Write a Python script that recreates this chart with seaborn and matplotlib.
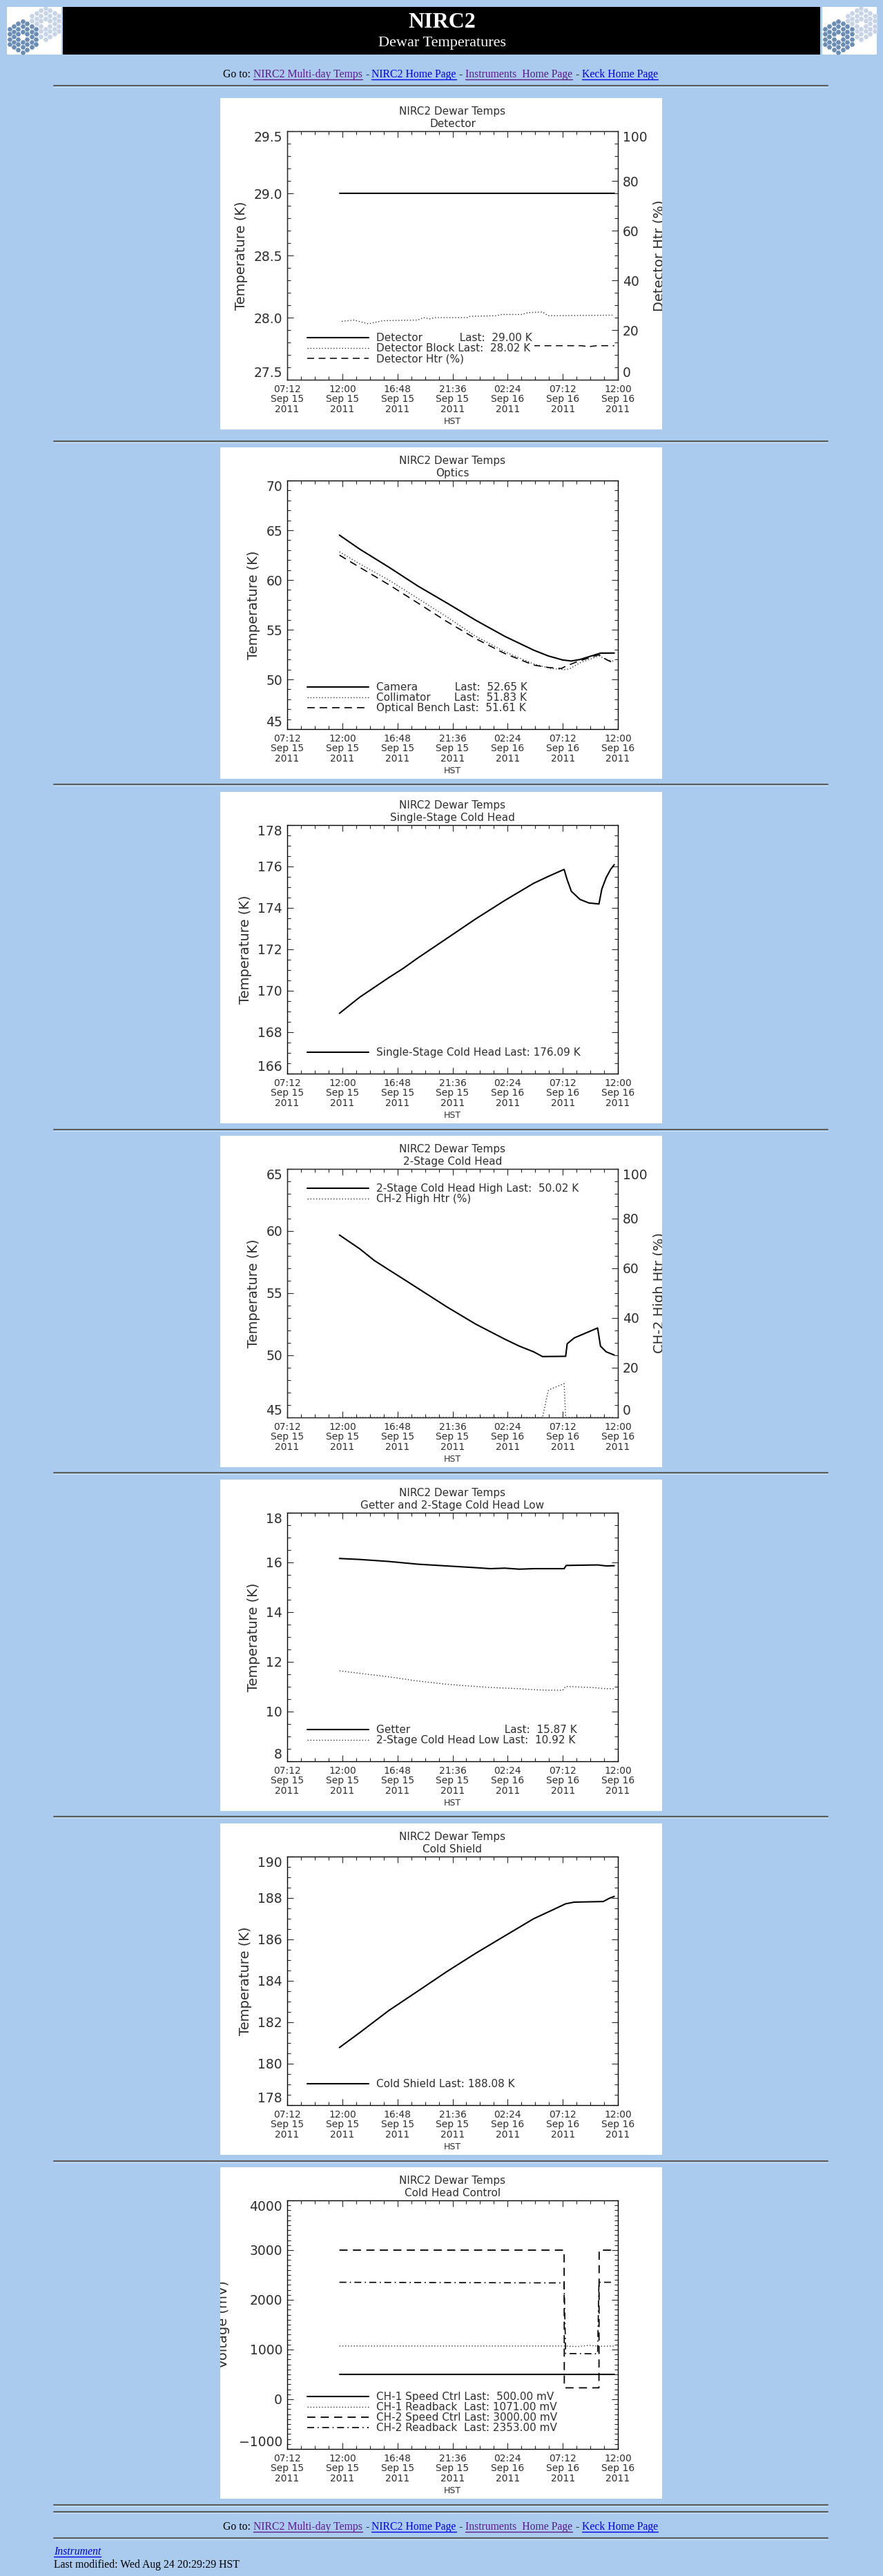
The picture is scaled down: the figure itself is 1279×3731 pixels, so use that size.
import numpy as np
import pandas as pd
import seaborn as sns
import matplotlib.pyplot as plt
import matplotlib.dates as mdates
from matplotlib.ticker import MultipleLocator, FixedLocator
from matplotlib.textpath import TextPath
from matplotlib.font_manager import FontProperties
from matplotlib.lines import Line2D

sns.set_style("ticks")
plt.rcParams['font.family'] = ['DejaVu Sans']

W, H = 1279, 3731
PAGE_BG = '#aacbee'
INK = '#2e2e2e'
PURPLE = '#5a1a8b'
BLUE = '#0000ee'

# ---- data ----
T0 = pd.Timestamp('2011-09-15 07:12')
T1 = pd.Timestamp('2011-09-16 12:00')

# Detector
det_time = ['09-15 11:45', '09-16 02:00', '09-16 11:41']
det_temp = [29.00, 29.00, 29.00]
blk_time = ['09-15 11:57', '09-15 13:01', '09-15 14:16', '09-15 15:32', '09-15 18:34', '09-15 19:04',
            '09-15 19:35', '09-15 20:05', '09-15 22:52', '09-15 23:07', '09-16 01:23', '09-16 01:53',
            '09-16 03:39', '09-16 04:10', '09-16 05:26', '09-16 05:56', '09-16 11:37']
blk_temp = [27.97, 27.98, 27.95, 27.975, 27.98, 28.00, 27.99, 28.00, 28.00, 28.01, 28.015, 28.025,
            28.025, 28.04, 28.045, 28.015, 28.02]
dhtr_time = ['09-15 11:45', '09-16 08:50', '09-16 09:28', '09-16 10:10', '09-16 11:41']
dhtr_pct = [13.7, 13.7, 13.3, 13.7, 13.7]

# Optics
cam_time = ['09-15 11:45', '09-15 13:31', '09-15 16:02', '09-15 18:34', '09-15 21:05', '09-15 23:37',
            '09-16 02:09', '09-16 04:40', '09-16 05:56', '09-16 07:12', '09-16 07:57', '09-16 08:42',
            '09-16 09:42', '09-16 10:29', '09-16 11:41']
cam_temp = [64.51, 63.10, 61.30, 59.40, 57.70, 55.95, 54.33, 52.94, 52.36, 51.95, 51.85, 52.00,
            52.36, 52.64, 52.65]
col_time = ['09-15 11:45', '09-15 13:31', '09-15 16:02', '09-15 18:34', '09-15 21:05', '09-15 23:37',
            '09-16 02:09', '09-16 04:40', '09-16 06:11', '09-16 07:27', '09-16 07:50', '09-16 08:42',
            '09-16 10:21', '09-16 11:06', '09-16 11:41']
col_temp = [62.83, 61.62, 60.00, 58.15, 56.30, 54.33, 52.78, 51.55, 51.09, 50.97, 51.09, 51.67,
            52.36, 51.95, 51.83]
ben_time = ['09-15 11:45', '09-15 13:31', '09-15 16:02', '09-15 18:34', '09-15 21:05', '09-15 23:37',
            '09-16 02:09', '09-16 04:40', '09-16 05:56', '09-16 07:04', '09-16 07:27', '09-16 08:27',
            '09-16 10:21', '09-16 10:59', '09-16 11:41']
ben_temp = [62.50, 61.27, 59.54, 57.69, 55.83, 54.10, 52.60, 51.44, 51.20, 51.09, 51.32, 51.78,
            52.48, 52.00, 51.61]

# Single-stage cold head
ss_time = ['09-15 11:45', '09-15 13:31', '09-15 16:02', '09-15 17:18', '09-15 18:34', '09-15 21:05',
           '09-15 23:37', '09-16 02:09', '09-16 04:40', '09-16 05:56', '09-16 07:19', '09-16 07:35',
           '09-16 07:57', '09-16 08:42', '09-16 09:28', '09-16 10:21', '09-16 10:36', '09-16 10:59',
           '09-16 11:22', '09-16 11:41']
ss_temp = [168.91, 169.69, 170.63, 171.08, 171.58, 172.52, 173.47, 174.36, 175.19, 175.52, 175.86,
           175.36, 174.80, 174.41, 174.24, 174.19, 174.91, 175.47, 175.86, 176.09]

# 2-stage cold head high + heater
hi_time = ['09-15 11:45', '09-15 13:31', '09-15 14:47', '09-15 16:02', '09-15 17:18', '09-15 18:34',
           '09-15 21:05', '09-15 23:37', '09-16 02:09', '09-16 03:25', '09-16 04:40', '09-16 05:26',
           '09-16 07:27', '09-16 07:35', '09-16 08:12', '09-16 10:14', '09-16 10:29', '09-16 10:59',
           '09-16 11:41']
hi_temp = [59.68, 58.57, 57.63, 56.89, 56.15, 55.40, 53.91, 52.51, 51.30, 50.74, 50.28, 49.90,
           49.92, 50.93, 51.40, 52.20, 50.74, 50.28, 50.02]
ch2h_time = ['09-15 11:45', '09-16 05:26', '09-16 05:56', '09-16 06:11', '09-16 07:19', '09-16 07:27',
             '09-16 11:41']
ch2h_pct = [0, 0, 10.8, 11.5, 13.6, 0, 0]

# Getter and 2-stage cold head low
get_time = ['09-15 11:45', '09-15 13:31', '09-15 16:02', '09-15 18:34', '09-15 21:05', '09-15 23:37',
            '09-16 00:53', '09-16 02:09', '09-16 03:25', '09-16 04:40', '09-16 07:19', '09-16 07:30',
            '09-16 10:14', '09-16 10:59', '09-16 11:41']
get_temp = [16.16, 16.12, 16.04, 15.93, 15.86, 15.79, 15.75, 15.77, 15.73, 15.75, 15.75, 15.88,
            15.90, 15.86, 15.87]
low_time = ['09-15 11:45', '09-15 13:31', '09-15 16:02', '09-15 18:34', '09-15 21:05', '09-15 23:37',
            '09-16 00:53', '09-16 03:25', '09-16 04:40', '09-16 05:56', '09-16 07:12', '09-16 07:27',
            '09-16 09:42', '09-16 10:59', '09-16 11:41']
low_temp = [11.64, 11.54, 11.40, 11.23, 11.10, 11.01, 10.97, 10.92, 10.88, 10.86, 10.86, 11.01,
            10.97, 10.92, 10.92]

# Cold shield
cs_time = ['09-15 11:45', '09-15 13:31', '09-15 16:02', '09-15 18:34', '09-15 21:05', '09-15 23:37',
           '09-16 02:09', '09-16 04:40', '09-16 06:11', '09-16 07:27', '09-16 08:12', '09-16 10:44',
           '09-16 11:14', '09-16 11:41']
cs_temp = [180.78, 181.50, 182.56, 183.50, 184.44, 185.33, 186.17, 187.00, 187.39, 187.72, 187.80,
           187.83, 187.98, 188.08]

# Cold head control (mV)
c1s_time = ['09-15 11:45', '09-16 11:41']
c1s_mv = [500, 500]
c1r_time = ['09-15 11:45', '09-16 07:19', '09-16 08:30', '09-16 09:30', '09-16 10:21', '09-16 11:41']
c1r_mv = [1071, 1071, 1060, 1085, 1065, 1071]
c2s_time = ['09-15 11:45', '09-16 07:19', '09-16 07:20', '09-16 10:21', '09-16 10:22', '09-16 11:41']
c2s_mv = [3000, 3000, 230, 230, 3000, 3000]
c2r_time = ['09-15 11:45', '09-16 07:19', '09-16 07:27', '09-16 10:14', '09-16 10:21', '09-16 11:41']
c2r_mv = [2353, 2340, 920, 915, 2353, 2353]

PANEL_TOP = [142, 648, 1147, 1645, 2143, 2641, 3139]
HR_Y = [124, 639, 1136, 1636, 2133, 2631, 3130, 3628, 3638, 3676]

SOLID = '-'
DOT = (0, (1, 2))
DASH = (0, (6.5, 4.3))
DASHDOT = (0, (6, 3, 1, 3))

MAJOR_T = pd.date_range(T0, T1, freq='288min')
MINOR_T = pd.date_range(T0, T1, freq='72min')


def when(lst):
    return pd.to_datetime(['2011-' + s for s in lst])


def fbox(x, y, w, h):
    return [x / W, 1 - (y + h) / H, w / W, h / H]


fig = plt.figure(figsize=(W / 100, H / 100), dpi=100)
fig.patch.set_facecolor(PAGE_BG)


def hr(y):
    fig.add_artist(Line2D([78 / W, 1199 / W], [1 - y / H] * 2, color='#5c5c5c', lw=1.5))
    fig.add_artist(Line2D([78 / W, 1199 / W], [1 - (y + 1.6) / H] * 2, color='#d8e4f2', lw=0.6))


def link_row(y_base, pieces, x_left=None, x_mid=None, size=11.3, style='normal'):
    r = fig.canvas.get_renderer()
    arts = []
    for s, col, ul in pieces:
        t = fig.text(0, 1 - y_base / H, s, color=col, fontsize=size, family='Liberation Serif',
                     va='baseline', ha='left', style=style)
        arts.append((t, t.get_window_extent(r).width, col, ul))
    gap = 4
    total = sum(a[1] for a in arts) + gap * (len(arts) - 1)
    x = x_left if x_left is not None else x_mid - total / 2
    for t, w, col, ul in arts:
        t.set_x(x / W)
        if ul:
            fig.add_artist(Line2D([x / W, (x + w) / W], [1 - (y_base + 2.5) / H] * 2, color=col, lw=1))
        x += w + gap


def logo(x, y):
    lax = fig.add_axes(fbox(x, y, 79, 69))
    lax.set_facecolor('white')
    lax.set_xlim(0, 79)
    lax.set_ylim(69, 0)
    lax.axis('off')
    lax.add_patch(plt.Rectangle((0, 0), 79, 69, color='white', zorder=0))
    for (cx, cy), col in [((56, 24), '#c6d4e5'), ((23, 43), '#6a8db6')]:
        xs, ys = [], []
        for q in range(-3, 4):
            for r in range(-3, 4):
                if abs(q + r) > 3 or (q == 0 and r == 0):
                    continue
                xs.append(cx + 6.5 * q)
                ys.append(cy + 7.5 * (r + q / 2))
        lax.scatter(xs, ys, marker='H', s=34, color=col, edgecolors='white', linewidths=0.4, zorder=2)


# ---- page header ----
hdr = fig.add_axes(fbox(91, 10, 1097, 69))
hdr.set_facecolor('black')
hdr.set_xticks([])
hdr.set_yticks([])
for s in hdr.spines.values():
    s.set_visible(False)
fig.text(640 / W, 1 - 32 / H, 'NIRC2', color='white', fontsize=23, fontweight='bold',
         family='Liberation Serif', ha='center', va='center')
fig.text(640 / W, 1 - 63 / H, 'Dewar Temperatures', color='white', fontsize=16,
         family='Liberation Serif', ha='center', va='center')
logo(10, 10)
logo(1191, 10)

GOTO = [('Go to:', 'black', False), ('NIRC2 Multi-day Temps', PURPLE, True), ('-', 'black', False),
        ('NIRC2 Home Page', BLUE, True), ('-', 'black', False), ('Instruments  Home Page', PURPLE, True),
        ('-', 'black', False), ('Keck Home Page', BLUE, True)]
link_row(112, GOTO, x_mid=638)
for y in HR_Y:
    hr(y)
link_row(3664, GOTO, x_mid=638)
link_row(3700, [('Instrument', BLUE, True)], x_left=78, style='italic')
link_row(3719, [('Last modified: Wed Aug 24 20:29:29 HST', 'black', False)], x_left=78)

LEG_FP = FontProperties(family='DejaVu Sans', size=11)


def text_w(s):
    return TextPath((0, 0), s + '|', prop=LEG_FP).get_extents().x1


def aligned(names):
    base = max(text_w(n + ' ') for n in names)
    sp = text_w(' ') - text_w('')
    out = []
    for n in names:
        s = n + ' '
        while text_w(s + ' ') <= base + sp * 0.5:
            s += ' '
        out.append(s)
    return out


def trace(ax, times, vals, ls, label, lw=1.4, color='black'):
    sns.lineplot(x=when(times), y=vals, ax=ax, color=color, linestyle=ls, linewidth=lw,
                 label=label, estimator=None, sort=False, legend=False)


def style_y(ax, lo, hi, step, minor, side):
    ax.set_ylim(lo, hi)
    ax.set_yticks(np.arange(lo, hi + step / 2, step))
    ax.yaxis.set_minor_locator(MultipleLocator(minor))
    ax.tick_params(axis='y', which='both', direction='in', labelsize=13.5, pad=5,
                   labelcolor=INK, left=(side == 'left'), right=(side == 'right'),
                   labelleft=(side == 'left'), labelright=(side == 'right'))
    ax.tick_params(axis='y', which='major', length=6.5, width=0.8)
    ax.tick_params(axis='y', which='minor', length=3.6, width=0.8)
    labs = ax.get_yticklabels()
    labs[0].set_va('bottom')
    labs[-1].set_va('top')


def panel(top, twin=False):
    bg = fig.add_axes(fbox(319, top, 640, 480))
    bg.set_facecolor('white')
    bg.set_xticks([])
    bg.set_yticks([])
    for s in bg.spines.values():
        s.set_visible(False)
    ax = fig.add_axes(fbox(319 + 97, top + 48, 479, 360))
    ax.set_facecolor('white')
    for s in ax.spines.values():
        s.set_color('black')
        s.set_linewidth(1.0)
    tw = ax.twinx() if twin else None
    return bg, ax, tw


def finish(bg, ax, subtitle, ylim, ystep, yminor, ylabel, tw=None, tw_label=None, label_x=None):
    ax.set_xlim(T0, T1)
    ax.xaxis.set_major_locator(FixedLocator(mdates.date2num(MAJOR_T)))
    ax.xaxis.set_minor_locator(FixedLocator(mdates.date2num(MINOR_T)))
    ax.xaxis.set_major_formatter(mdates.DateFormatter('%H:%M\n%b %d\n%Y'))
    ax.tick_params(axis='x', which='both', direction='in', top=True, bottom=True,
                   labelsize=10, pad=5, labelcolor=INK)
    ax.tick_params(axis='x', which='major', length=6.5, width=0.8)
    ax.tick_params(axis='x', which='minor', length=3.6, width=0.8)
    for lab in ax.get_xticklabels():
        lab.set_linespacing(1.05)
    style_y(ax, ylim[0], ylim[1], ystep, yminor, 'left')
    if tw is None:
        ax.tick_params(axis='y', which='both', right=True)
    ax.set_title('NIRC2 Dewar Temps\n' + subtitle, fontsize=11, color=INK, pad=4, linespacing=1.25)
    ax.set_xlabel('HST', fontsize=9, color=INK, labelpad=3)
    ax.set_ylabel(ylabel, fontsize=14, color=INK, labelpad=6)
    if label_x is not None:
        ax.yaxis.set_label_coords(label_x, 0.5)
    ax.yaxis.label.set_clip_box(bg.bbox)
    ax.yaxis.label.set_clip_on(True)
    if tw is not None:
        tw.set_xlim(T0, T1)
        style_y(tw, 0, 100, 20, 5, 'right')
        tw.set_ylabel(tw_label, fontsize=14, color=INK, labelpad=6)
        tw.yaxis.label.set_clip_box(bg.bbox)
        tw.yaxis.label.set_clip_on(True)
        tw.set_xlabel('')


def legend(ax, handles, labels, upper=False):
    if upper:
        kw = dict(loc='upper left', bbox_to_anchor=(0.054, 0.95))
    else:
        kw = dict(loc='lower left', bbox_to_anchor=(0.054, 0.055))
    leg = ax.legend(handles, labels, frameon=True, fancybox=False, edgecolor='none',
                    facecolor='white', framealpha=1, prop=LEG_FP, handlelength=5.8,
                    handletextpad=0.75, labelspacing=0.0, borderpad=0.2, borderaxespad=0, **kw)
    for t in leg.get_texts():
        t.set_color(INK)
    leg.set_zorder(10)


# ---- 1: Detector ----
bg, ax, tw = panel(PANEL_TOP[0], twin=True)
trace(ax, det_time, det_temp, SOLID, 'det', lw=1.5)
trace(ax, blk_time, blk_temp, DOT, 'blk', lw=1.0, color='#333333')
trace(tw, dhtr_time, dhtr_pct, DASH, 'htr', lw=1.1)
finish(bg, ax, 'Detector', (27.5, 29.5), 0.5, 0.1, 'Temperature (K)', tw, 'Detector Htr (%)')
n = aligned(['Detector', 'Detector Block'])
legend(tw, ax.get_lines()[:2] + tw.get_lines()[:1],
       [n[0] + f'Last: {det_temp[-1]:6.2f} K', n[1] + f'Last: {blk_temp[-1]:6.2f} K', 'Detector Htr (%)'])

# ---- 2: Optics ----
bg, ax, _ = panel(PANEL_TOP[1])
trace(ax, cam_time, cam_temp, SOLID, 'cam', lw=1.5)
trace(ax, col_time, col_temp, DOT, 'col', lw=1.0, color='#333333')
trace(ax, ben_time, ben_temp, DASH, 'ben', lw=1.2)
finish(bg, ax, 'Optics', (45, 70), 5, 1, 'Temperature (K)')
n = aligned(['Camera', 'Collimator', 'Optical Bench'])
legend(ax, ax.get_lines()[:3],
       [n[0] + f'Last: {cam_temp[-1]:6.2f} K', n[1] + f'Last: {col_temp[-1]:6.2f} K',
        n[2] + f'Last: {ben_temp[-1]:6.2f} K'])

# ---- 3: Single-stage cold head ----
bg, ax, _ = panel(PANEL_TOP[2])
trace(ax, ss_time, ss_temp, SOLID, 'ss', lw=1.5)
finish(bg, ax, 'Single-Stage Cold Head', (166, 178), 2, 0.5, 'Temperature (K)')
legend(ax, ax.get_lines()[:1], [f'Single-Stage Cold Head Last: {ss_temp[-1]:6.2f} K'])

# ---- 4: 2-stage cold head ----
bg, ax, tw = panel(PANEL_TOP[3], twin=True)
trace(ax, hi_time, hi_temp, SOLID, 'hi', lw=1.5)
trace(tw, ch2h_time, ch2h_pct, DOT, 'ch2h', lw=1.0, color='#333333')
finish(bg, ax, '2-Stage Cold Head', (45, 65), 5, 1, 'Temperature (K)', tw, 'CH-2 High Htr (%)')
legend(tw, ax.get_lines()[:1] + tw.get_lines()[:1],
       [f'2-Stage Cold Head High Last: {hi_temp[-1]:6.2f} K', 'CH-2 High Htr (%)'], upper=True)

# ---- 5: Getter and 2-stage cold head low ----
bg, ax, _ = panel(PANEL_TOP[4])
trace(ax, get_time, get_temp, SOLID, 'get', lw=1.5)
trace(ax, low_time, low_temp, DOT, 'low', lw=1.0, color='#333333')
finish(bg, ax, 'Getter and 2-Stage Cold Head Low', (8, 18), 2, 0.5, 'Temperature (K)')
n = aligned(['Getter', '2-Stage Cold Head Low'])
legend(ax, ax.get_lines()[:2],
       [n[0] + f'Last: {get_temp[-1]:6.2f} K', n[1] + f'Last: {low_temp[-1]:6.2f} K'])

# ---- 6: Cold shield ----
bg, ax, _ = panel(PANEL_TOP[5])
trace(ax, cs_time, cs_temp, SOLID, 'cs', lw=1.5)
finish(bg, ax, 'Cold Shield', (178, 190), 2, 0.5, 'Temperature (K)')
legend(ax, ax.get_lines()[:1], [f'Cold Shield Last: {cs_temp[-1]:6.2f} K'])

# ---- 7: Cold head control ----
bg, ax, _ = panel(PANEL_TOP[6])
trace(ax, c1s_time, c1s_mv, SOLID, 'c1s', lw=1.5)
trace(ax, c1r_time, c1r_mv, DOT, 'c1r', lw=1.0, color='#333333')
trace(ax, c2s_time, c2s_mv, DASH, 'c2s', lw=1.3)
trace(ax, c2r_time, c2r_mv, DASHDOT, 'c2r', lw=1.2)
finish(bg, ax, 'Cold Head Control', (-1000, 4000), 1000, 100, 'Voltage (mV)', label_x=-0.173)
n = aligned(['CH-1 Speed Ctrl', 'CH-1 Readback', 'CH-2 Speed Ctrl', 'CH-2 Readback'])
legend(ax, ax.get_lines()[:4],
       [n[0] + f'Last: {c1s_mv[-1]:7.2f} mV', n[1] + f'Last: {c1r_mv[-1]:7.2f} mV',
        n[2] + f'Last: {c2s_mv[-1]:7.2f} mV', n[3] + f'Last: {c2r_mv[-1]:7.2f} mV'])

fig.savefig('out.png', dpi=100, facecolor=PAGE_BG)
